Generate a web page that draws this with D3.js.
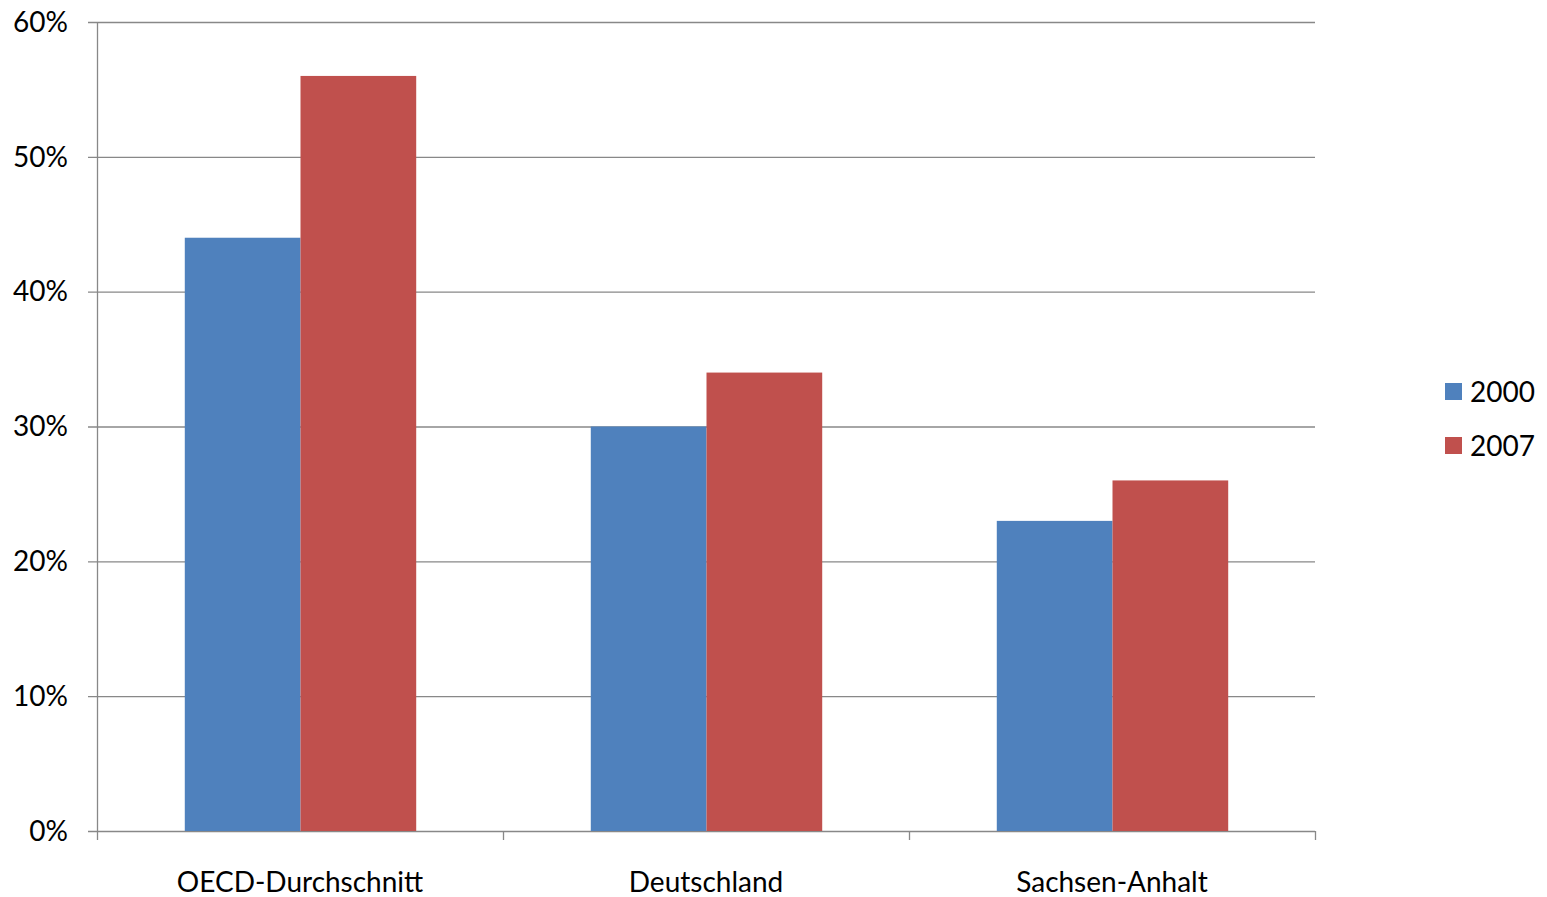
<!DOCTYPE html>
<html>
<head>
<meta charset="utf-8">
<script src="https://cdn.jsdelivr.net/npm/d3@7"></script>
<style>
  html, body { margin: 0; padding: 0; background: #fff; }
  svg text { font-family: Lato, "Open Sans", sans-serif; fill: #000; }
</style>
</head>
<body>
<svg id="chart" width="1547" height="897"></svg>
<script>
// Share by region, 2000 vs 2007
const categories = ["OECD-Durchschnitt", "Deutschland", "Sachsen-Anhalt"];
const seriesNames = ["2000", "2007"];
const values2000 = [44, 30, 23];
const values2007 = [56, 34, 26];
const yTicks = [0, 10, 20, 30, 40, 50, 60];
const colors = ["#4F81BD", "#C0504D"];

const svg = d3.select("#chart");
const plot = { left: 97, right: 1315, top: 22, bottom: 831 };

const x = d3.scaleBand().domain(categories).range([plot.left, plot.right]).paddingInner(0).paddingOuter(0);
const inner = 0.57;
const y = d3.scaleLinear().domain([0, 60]).range([plot.bottom, plot.top]);

// gridlines
svg.append("g").selectAll("line").data(yTicks).join("line")
  .attr("x1", plot.left - 9).attr("x2", plot.right)
  .attr("y1", d => y(d) + 0.5).attr("y2", d => y(d) + 0.5)
  .attr("stroke", "#888").attr("stroke-width", 1.3);

// bars
const series = [values2000, values2007];
const groupW = x.bandwidth() * inner;
const xs = d3.scaleBand().domain(seriesNames).range([0, groupW]);
series.forEach((vals, si) => {
  svg.append("g").selectAll("rect").data(categories).join("rect")
    .attr("x", d => x(d) + (x.bandwidth() - groupW) / 2 + xs(seriesNames[si]) + 0.5)
    .attr("y", (d, i) => y(vals[i]))
    .attr("width", xs.bandwidth())
    .attr("height", (d, i) => y(0) - y(vals[i]))
    .attr("fill", colors[si]);
});

// y axis line
svg.append("line").attr("x1", plot.left + 0.5).attr("x2", plot.left + 0.5)
  .attr("y1", plot.top).attr("y2", plot.bottom + 9)
  .attr("stroke", "#888").attr("stroke-width", 1.3);

// x axis ticks at category boundaries
const boundaries = categories.map(c => x(c)).concat([plot.right]);
svg.append("g").selectAll("line").data(boundaries.slice(1)).join("line")
  .attr("x1", d => d + 0.5).attr("x2", d => d + 0.5)
  .attr("y1", plot.bottom).attr("y2", plot.bottom + 9)
  .attr("stroke", "#888").attr("stroke-width", 1.3);

// y tick labels
svg.append("g").selectAll("text").data(yTicks).join("text")
  .attr("x", 68).attr("y", d => y(d))
  .attr("dy", "0.35em")
  .attr("text-anchor", "end")
  .attr("font-size", 28)
  .text(d => d + "%");

// x labels
svg.append("g").selectAll("text").data(categories).join("text")
  .attr("x", d => x(d) + x.bandwidth() / 2)
  .attr("y", 892)
  .attr("text-anchor", "middle")
  .attr("font-size", 28)
  .text(d => d);

// legend
const legend = svg.append("g").selectAll("g").data(seriesNames).join("g")
  .attr("transform", (d, i) => `translate(1445, ${383 + i * 54})`);
legend.append("rect").attr("width", 17).attr("height", 17)
  .attr("fill", (d, i) => colors[i]);
legend.append("text").attr("x", 25).attr("y", 9.5).attr("dy", "0.35em")
  .attr("font-size", 28).text(d => d);
</script>
</body>
</html>
